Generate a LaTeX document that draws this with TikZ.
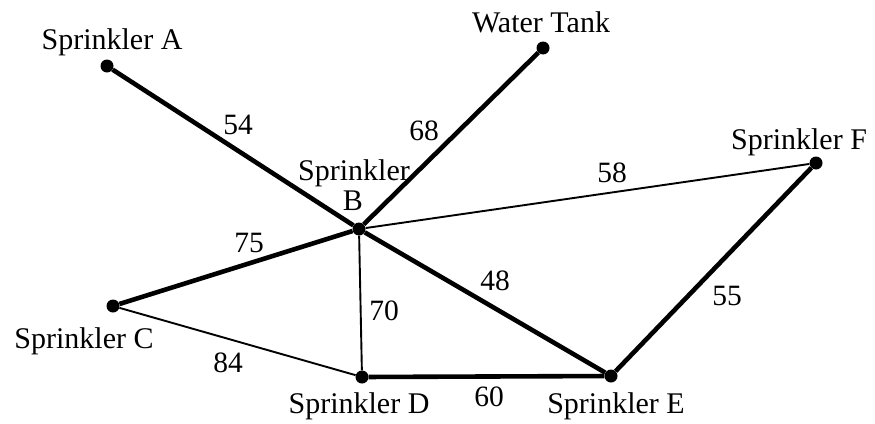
\documentclass[tikz,border=0pt]{standalone}
\usepackage{fontspec}
\setmainfont{Liberation Serif}
\begin{document}
\begin{tikzpicture}[x=1pt,y=-1pt,
  dot/.style={circle,fill=black,inner sep=0pt,minimum size=13pt},
  heavy/.style={line width=4.6pt},
  light/.style={line width=1.9pt},
  lbl/.style={font=\fontsize{30}{32}\selectfont,anchor=base,inner sep=0pt},
  wt/.style={font=\fontsize{29.5}{32}\selectfont,anchor=base,inner sep=0pt}]
\useasboundingbox (0,0) rectangle (875,423);
\node[dot] (A) at (107,66) {};
\node[dot] (T) at (543,48) {};
\node[dot] (F) at (816,163) {};
\node[dot] (B) at (359,229) {};
\node[dot] (C) at (113,306) {};
\node[dot] (D) at (362,377) {};
\node[dot] (E) at (611,376) {};
% edges
\draw[light] (B) -- (F);
\draw[light] (C) -- (D);
\draw[light] (B) -- (D);
\draw[heavy] (A) -- (B);
\draw[heavy] (T) -- (B);
\draw[heavy] (C) -- (B);
\draw[heavy] (B) -- (E);
\draw[heavy] (D) -- (E);
\draw[heavy] (E) -- (F);
% node labels
\node[lbl] (lA) at (112,49) {Sprinkler A};
\node[lbl] (lT) at (541,32) {Water Tank};
\node[lbl] (lF) at (799,149) {Sprinkler F};
\node[lbl] (lB1) at (354,180) {Sprinkler};
\node[lbl] (lB2) at (353,210) {B};
\node[lbl] (lC) at (84,348) {Sprinkler C};
\node[lbl] (lD) at (359,413) {Sprinkler D};
\node[lbl] (lE) at (616,413) {Sprinkler E};
% weights
\node[wt] (w54) at (238,134) {54};
\node[wt] (w68) at (424,140) {68};
\node[wt] (w58) at (612,182) {58};
\node[wt] (w75) at (249,252) {75};
\node[wt] (w48) at (495,290) {48};
\node[wt] (w70) at (384,320) {70};
\node[wt] (w55) at (727,305) {55};
\node[wt] (w84) at (228,372) {84};
\node[wt] (w60) at (489,406) {60};
\end{tikzpicture}
\end{document}
